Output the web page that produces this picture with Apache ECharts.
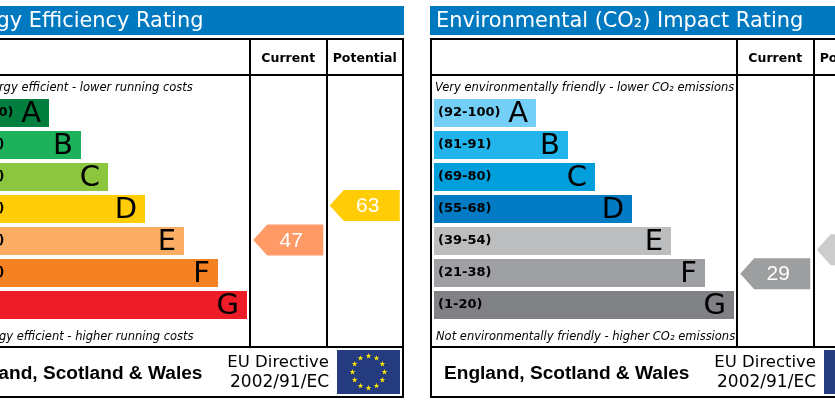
<!DOCTYPE html>
<html>
<head>
<meta charset="utf-8">
<style>
html, body { margin: 0; padding: 0; background: #fff; }
#container { width: 835px; height: 404px; }
</style>
<script src="https://cdn.jsdelivr.net/npm/echarts@6/dist/echarts.min.js"></script>
</head>
<body>
<div id="container"></div>
<script>
// chart values
var letters = ['A', 'B', 'C', 'D', 'E', 'F', 'G'];
var ratingRanges = ['(92-100)', '(81-91)', '(69-80)', '(55-68)', '(39-54)', '(21-38)', '(1-20)'];
var bandLengths = [102, 134, 161, 198, 237, 271, 300];
var energyColors = ['#007f3e', '#1eb15b', '#8cc63f', '#ffcc05', '#fbae63', '#f58222', '#ed1c26'];
var co2Colors = ['#73cff5', '#22b5ec', '#009fdb', '#007bc4', '#bbbdbf', '#9fa0a3', '#808184'];
var columns = ['Current', 'Potential'];
// [column, position down the scale counted in bands, score, colour]
var energyScores = [[0, 4.47, 47, '#ff9966'], [1, 3.39, 63, '#ffcc05']];
var co2Scores = [[0, 5.52, 29, '#9d9e9f'], [1, 4.77, 42, '#cccccc']];

var dom = document.getElementById('container');
var myChart = echarts.init(dom);

var panels = [
	{
		x: -57, title: 'Energy Efficiency Rating', top: 'Very energy efficient - lower running costs',
		bottom: 'Not energy efficient - higher running costs', colors: energyColors, scores: energyScores
	},
	{
		x: 430, title: 'Environmental (CO\u2082) Impact Rating', top: 'Very environmentally friendly - lower CO\u2082 emissions',
		bottom: 'Not environmentally friendly - higher CO\u2082 emissions', colors: co2Colors, scores: co2Scores
	}
];

function line(x, y, w, h) {
	return { type: 'rect', silent: true, shape: { x: x, y: y, width: w, height: h }, style: { fill: '#000' } };
}

function label(text, x, y, font, align, color) {
	return {
		type: 'text', silent: true, x: x, y: y,
		style: { text: text, font: font, align: align || 'left', verticalAlign: 'middle', fill: color || '#000' }
	};
}

function star(cx, cy, r) {
	var pts = [];
	for (var i = 0; i < 10; i++) {
		var a = -Math.PI / 2 + i * Math.PI / 5;
		var d = i % 2 ? r * 0.4 : r;
		pts.push([cx + d * Math.cos(a), cy + d * Math.sin(a)]);
	}
	return { type: 'polygon', silent: true, shape: { points: pts }, style: { fill: '#ffe600' } };
}

function panelGraphics(p) {
	var x = p.x;
	var els = [
		{ type: 'rect', silent: true, shape: { x: x, y: 6, width: 461, height: 29 }, style: { fill: '#0079c1' } },
		line(x, 38, 461, 2), line(x, 74, 461, 2), line(x, 346, 461, 2), line(x, 396, 461, 2),
		line(x, 38, 2, 360), line(x + 459, 38, 2, 360),
		line(x + 306, 38, 2, 310), line(x + 383, 38, 2, 310),
		label(p.title, x + 6, 22, '20.9px "DejaVu Sans"', 'left', '#fff'),
		label(p.top, x + 5, 88, 'italic 11.5px "DejaVu Sans"'),
		label(p.bottom, x + 6, 337, 'italic 11.5px "DejaVu Sans"'),
		label('England, Scotland & Wales', x + 14, 374, 'bold 19.1px "Liberation Sans"'),
		label('EU Directive', x + 386, 363, '16.5px "DejaVu Sans"', 'right'),
		label('2002/91/EC', x + 386, 383, '17px "DejaVu Sans"', 'right'),
		{ type: 'rect', silent: true, shape: { x: x + 394, y: 350, width: 63, height: 44 }, style: { fill: '#243b80' } }
	];
	for (var i = 0; i < 12; i++) {
		var a = i * Math.PI / 6;
		els.push(star(x + 425.5 + 16 * Math.cos(a), 372 + 16 * Math.sin(a), 3));
	}
	return els;
}

function arrowRenderer(scores) {
	return function (params, api) {
		var pt = api.coord([api.value(0), api.value(1)]);
		var cx = pt[0], cy = pt[1];
		return {
			type: 'group',
			children: [
				{
					type: 'polygon',
					shape: { points: [[cx - 35, cy], [cx - 21, cy - 15.5], [cx + 35, cy - 15.5], [cx + 35, cy + 15.5], [cx - 21, cy + 15.5]] },
					style: { fill: scores[params.dataIndex][3] }
				},
				{
					type: 'text', x: cx + 3, y: cy + 1,
					style: { text: String(api.value(2)), font: '21px "Liberation Sans"', fill: '#fff', align: 'center', verticalAlign: 'middle' }
				}
			]
		};
	};
}

var grid = [], xAxis = [], yAxis = [], series = [], graphics = [];

panels.forEach(function (p, i) {
	var barGrid = i * 2, arrowGrid = i * 2 + 1;
	// the panels run off the canvas, so no clamping to the canvas
	grid.push({ left: p.x + 4, top: 97, width: 300, height: 224, outerBoundsMode: 'none' });
	grid.push({ left: p.x + 307, top: 97, width: 153, height: 224, outerBoundsMode: 'none' });

	xAxis.push({ gridIndex: barGrid, type: 'value', min: 0, max: 300, show: false });
	yAxis.push({
		gridIndex: barGrid, type: 'category', inverse: true, data: ratingRanges, z: 5,
		axisLine: { show: false }, axisTick: { show: false }, splitLine: { show: false },
		axisLabel: { inside: true, margin: 4, padding: [4, 0, 0, 0], interval: 0, color: '#000', fontFamily: 'DejaVu Sans', fontWeight: 'bold', fontSize: 13 }
	});
	series.push({
		type: 'bar', xAxisIndex: barGrid, yAxisIndex: barGrid, barWidth: 28,
		data: bandLengths.map(function (v, k) {
			return { value: v, itemStyle: { color: p.colors[k] } };
		}),
		label: {
			show: true, position: 'insideRight', distance: 8, offset: [0, 1], color: '#000',
			fontFamily: 'DejaVu Sans', fontSize: 29,
			formatter: function (o) { return letters[o.dataIndex]; }
		}
	});

	xAxis.push({
		gridIndex: arrowGrid, type: 'category', position: 'top', data: columns,
		axisLine: { show: false }, axisTick: { show: false }, splitLine: { show: false },
		axisLabel: { interval: 0, margin: 32, color: '#000', fontFamily: 'DejaVu Sans', fontWeight: 'bold', fontSize: 12.5 }
	});
	yAxis.push({ gridIndex: arrowGrid, type: 'value', inverse: true, min: 0, max: 7, show: false });
	series.push({
		type: 'custom', xAxisIndex: arrowGrid, yAxisIndex: arrowGrid, clip: false,
		encode: { x: 0, y: 1 }, data: p.scores, renderItem: arrowRenderer(p.scores)
	});

	graphics = graphics.concat(panelGraphics(p));
});

var option = {
	animation: false,
	backgroundColor: '#fff',
	grid: grid,
	xAxis: xAxis,
	yAxis: yAxis,
	series: series,
	graphic: { elements: graphics }
};
myChart.setOption(option, true);
</script>
</body>
</html>
